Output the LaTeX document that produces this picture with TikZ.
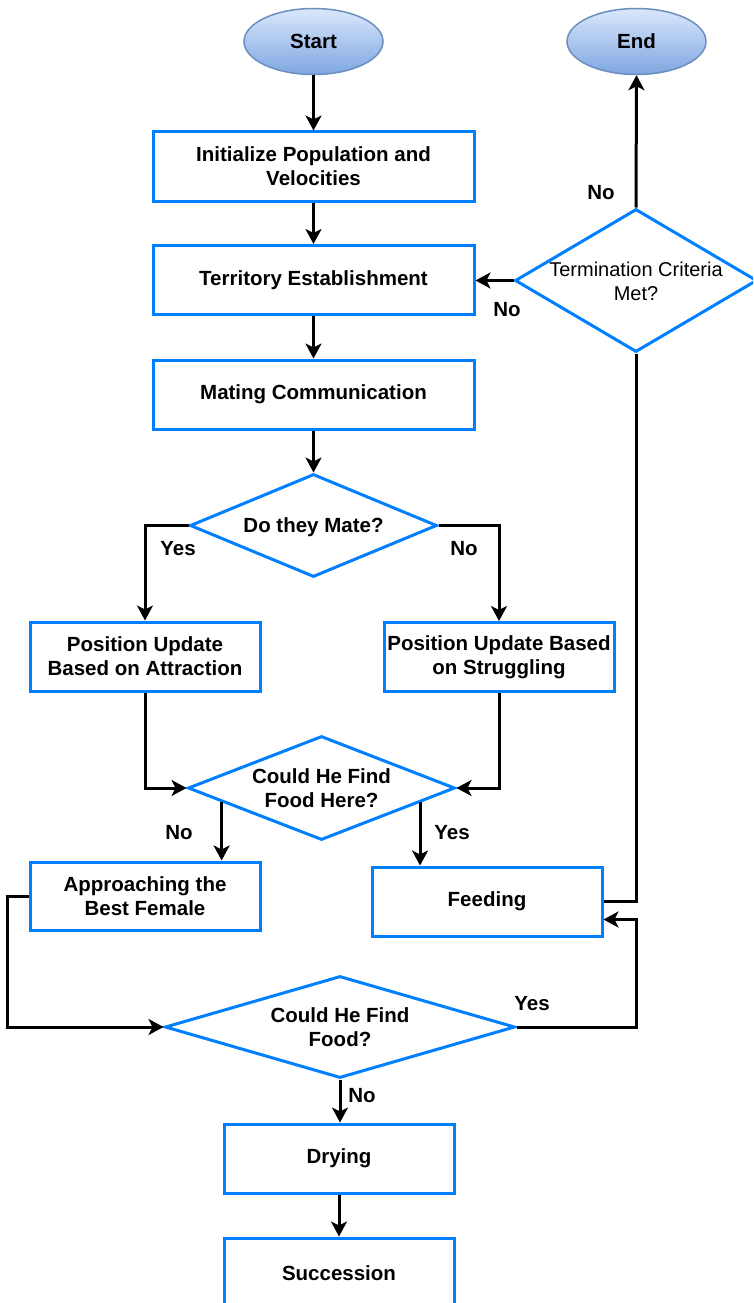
\documentclass[tikz,border=0pt]{standalone}
\usepackage{fontspec}
\setmainfont{Liberation Sans}
\usetikzlibrary{shapes.geometric,arrows.meta,calc}
\definecolor{boxblue}{RGB}{0,127,255}
\definecolor{ovaltop}{RGB}{218,232,252}
\definecolor{ovalbot}{RGB}{126,166,224}
\definecolor{ovalline}{RGB}{108,142,191}
\begin{document}
\begin{tikzpicture}[x=1pt,y=-1pt,
  every node/.style={font=\fontsize{20.5}{24}\selectfont\bfseries, align=center, inner sep=0pt},
  terminal/.style={ellipse, draw=ovalline, line width=1.5pt, top color=ovaltop, bottom color=ovalbot,
    minimum width=139pt, minimum height=66pt},
  process/.style={rectangle, draw=boxblue, line width=3pt, fill=white, minimum width=230pt, minimum height=69pt},
  wideprocess/.style={process, minimum width=321pt},
  decision/.style={diamond, draw=boxblue, line width=3pt, fill=white},
  plain/.style={font=\fontsize{20}{24}\selectfont},
  flow/.style={line width=3pt, -{Stealth[length=15pt,width=16pt,inset=4pt]}},
  link/.style={line width=3pt},
  lbl/.style={}
]
\clip (0,0) rectangle (753,1303);

% terminals
\node[terminal] (start) at (313.5,41.5) {Start};
\node[terminal] (end) at (636.5,41.5) {End};

% main column
\node[wideprocess] (init) at (313.5,166.5) {Initialize Population and\\Velocities};
\node[wideprocess] (terr) at (313.5,280) {Territory Establishment};
\node[wideprocess] (mating) at (313.5,394.5) {Mating Communication};

% decisions (shape and text kept apart so the size is fixed)
\node[decision, minimum width=247pt, minimum height=103pt] (mate) at (313.5,525.5) {};
\node (matetxt) at (313.5,527) {Do they Mate?};

\node[process] (posA) at (145,656.5) {Position Update\\Based on Attraction};
\node[process] (posS) at (499,657) {Position Update Based\\on Struggling};

\node[decision, minimum width=267pt, minimum height=104pt] (here) at (321.5,788) {};
\node (heretxt) at (321.5,788) {Could He Find\\Food Here?};

\node[process, minimum height=68pt] (appr) at (145,896) {Approaching the\\Best Female};
\node[process] (feed) at (487,901.5) {Feeding};

\node[decision, minimum width=350pt, minimum height=102pt] (food) at (340,1027) {};
\node (foodtxt) at (340,1027) {Could He Find\\Food?};

\node[process] (dry) at (339,1158.5) {Drying};
\node[process, minimum height=70pt] (succ) at (339,1273) {Succession};

\node[decision, minimum width=242pt, minimum height=143pt] (term) at (636,280.5) {};
\node[plain] (termtxt) at (636,281) {Termination Criteria\\Met?};

% connectors
\draw[flow] (start) -- (init);
\draw[flow] (init) -- (terr);
\draw[flow] (terr) -- (mating);
\draw[flow] (mating) -- (mate);
\draw[flow] (mate.west) -| (posA.north);
\draw[flow] (mate.east) -| (posS.north);
\draw[flow] (posA.south) |- (here.west);
\draw[flow] (posS.south) |- (here.east);

\coordinate (hereL) at ($(here.west)!0.26!(here.south)$);
\coordinate (hereR) at ($(here.east)!0.27!(here.south)$);
\draw[flow] (hereL) -- (hereL |- appr.north);
\draw[flow] (hereR) -- (hereR |- feed.north);

\coordinate (leftrail) at (7,896);
\draw[flow] (appr.west) -- (leftrail) |- (food.west);

\coordinate (feedIn) at ([yshift=-18pt]feed.east);
\coordinate (rightrail) at (term.south |- food.east);
\draw[flow] (food.east) -- (rightrail) |- (feedIn);
\draw[link] (feed.east) -| (term.south);

\draw[flow] (term.west) -- (term.west -| terr.east);
\draw[flow] (term.north) -- (end.south);

\draw[flow] (food.south) -- (food.south |- dry.north);
\draw[flow] (dry) -- (succ);

% branch labels
\node[lbl] (l1) at (178,549) {Yes};
\node[lbl] (l2) at (464,549) {No};
\node[lbl] (l3) at (179,833) {No};
\node[lbl] (l4) at (452,833) {Yes};
\node[lbl] (l5) at (532,1004) {Yes};
\node[lbl] (l6) at (362,1096) {No};
\node[lbl] (l7) at (601,193) {No};
\node[lbl] (l8) at (507,310) {No};
\end{tikzpicture}
\end{document}
